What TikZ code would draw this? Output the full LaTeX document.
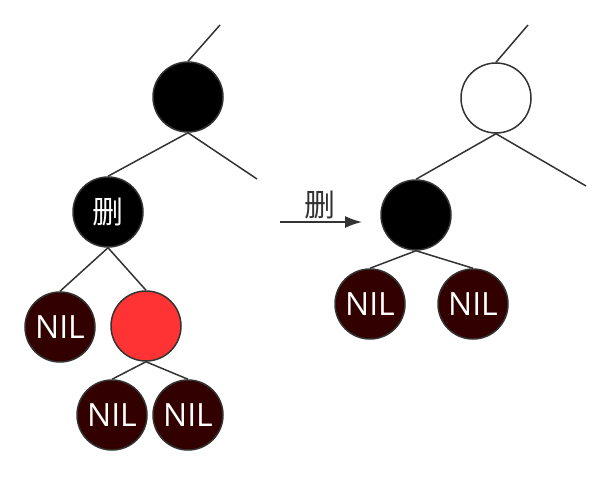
\documentclass[tikz,border=0pt]{standalone}
\usepackage{fontspec}
\setmainfont{Open Sans}
\newfontfamily\cjk{Noto Sans CJK SC}
\usetikzlibrary{arrows.meta}
\definecolor{nilred}{HTML}{330000}
\definecolor{hotred}{HTML}{FF3333}
\definecolor{edgegray}{HTML}{333333}

\begin{document}
\begin{tikzpicture}[x=1pt,y=-1pt,
    rb/.style={circle,draw=edgegray,line width=1.5pt,minimum size=70pt,inner sep=0pt},
    blk/.style={rb,fill=black,text=white,font=\cjk\fontsize{31}{31}\selectfont},
    wht/.style={rb,fill=white},
    hot/.style={rb,fill=hotred},
    nil/.style={rb,fill=nilred,text=white,font=\fontsize{32}{32}\selectfont},
    edge/.style={draw=edgegray,line width=1.5pt}
    ]
    \useasboundingbox (0,0) rectangle (609,476);
    % before
    \node[blk] (p1) at (188,97) {};
    \node[blk] (d1) at (108,212) {删};
    \node[nil] (n1) at (60,327) {NIL};
    \node[hot] (s1) at (146,326) {};
    \node[nil] (n2) at (112,415) {NIL};
    \node[nil] (n3) at (188,415) {NIL};
    \coordinate (up1) at (220,25);
    \coordinate (rt1) at (257,179);
    \draw[edge] (p1.north) -- (up1);
    \draw[edge] (p1.south) -- (rt1);
    \draw[edge] (p1.south) -- (d1.north);
    \draw[edge] (d1.south) -- (n1.north);
    \draw[edge] (d1.south) -- (s1.north);
    \draw[edge] (s1.south) -- (n2.north);
    \draw[edge] (s1.south) -- (n3.north);
    % arrow
    \coordinate (a0) at (280,222);
    \coordinate (a1) at (362,222);
    \node[text=edgegray,font=\cjk\fontsize{31}{31}\selectfont] (op) at (320,205) {删};
    \draw[edge,-{Latex[length=17pt,width=12pt]}] (a0) -- (a1);
    % after
    \node[wht] (p2) at (496,98) {};
    \node[blk] (s2) at (416,215) {};
    \node[nil] (n4) at (370,304) {NIL};
    \node[nil] (n5) at (473,304) {NIL};
    \coordinate (up2) at (528,25);
    \coordinate (rt2) at (586,186);
    \draw[edge] (p2.north) -- (up2);
    \draw[edge] (p2.south) -- (rt2);
    \draw[edge] (p2.south) -- (s2.north);
    \draw[edge] (s2.south) -- (n4.north);
    \draw[edge] (s2.south) -- (n5.north);
\end{tikzpicture}
\end{document}
